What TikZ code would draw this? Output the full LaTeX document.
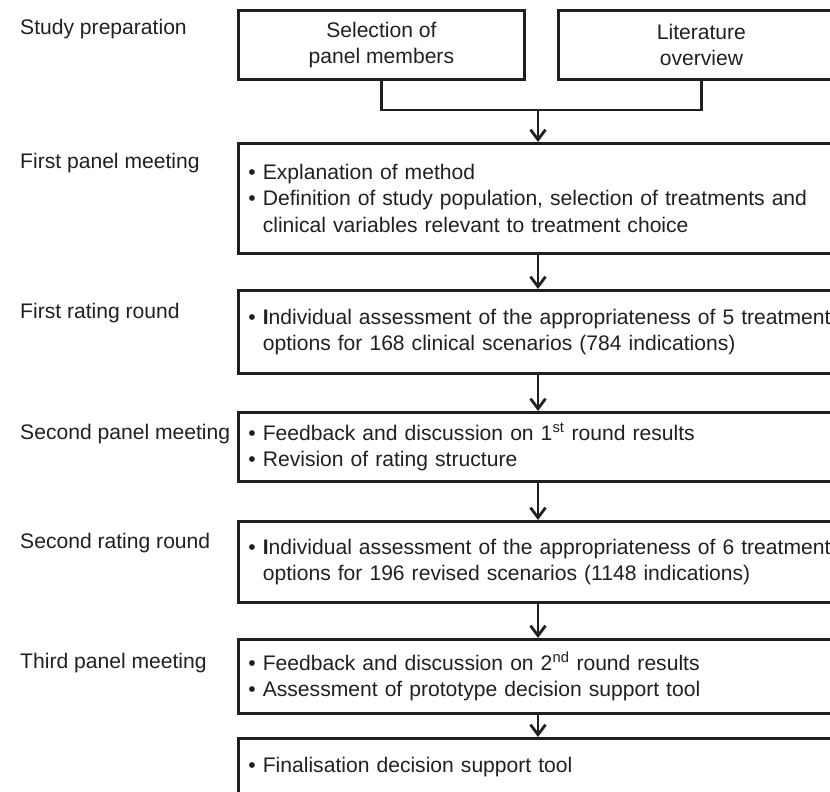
\documentclass[tikz,border=0pt]{standalone}
\usepackage{fontspec}
\setmainfont{Liberation Sans}
\usetikzlibrary{arrows.meta}
\definecolor{inkgray}{RGB}{35,31,32}
\newcommand{\bul}{\textbullet\ }
\newcommand{\nobul}{\phantom{\textbullet}\ }
\begin{document}
\begin{tikzpicture}[x=1pt,y=-1pt,inkgray,
	every node/.style={font=\fontsize{21.1}{26.5}\selectfont,text=inkgray},
	stagebox/.style={draw,line width=2.8pt,anchor=north west,align=left,text width=600pt,inner xsep=10pt,inner ysep=0pt},
	topbox/.style={draw,line width=2.8pt,anchor=north west,align=center,minimum width=286pt,minimum height=69pt,inner sep=0pt},
	stagelabel/.style={anchor=west,inner sep=0pt},
	flow/.style={line width=2.8pt,-{Straight Barb[length=10pt,width=15pt,line width=2.8pt]}}]
	\clip (0,0) rectangle (830,792); % Cuts the boxes like the source figure
		% Labels on the left
		\node[stagelabel] (LabPrep)     at (20,29)  {Study preparation};
		\node[stagelabel] (LabMeetOne)  at (20,163) {First panel meeting};
		\node[stagelabel] (LabRateOne)  at (20,313) {First rating round};
		\node[stagelabel] (LabMeetTwo)  at (20,434) {Second panel meeting};
		\node[stagelabel] (LabRateTwo)  at (20,543) {Second rating round};
		\node[stagelabel] (LabMeetThr)  at (20,663) {Third panel meeting};

		% Study preparation
		\node[topbox] (PanelSel)    at (237,9) {Selection of\\panel members};
		\node[topbox] (LitOverview) at (557,9) {Literature\\overview};
		\coordinate (Junction) at (538,110);

		% Stages
		\node[stagebox,minimum height=110pt] (MeetOne) at (237,142) {\bul Explanation of method\\\bul Definition of study population, selection of treatments and\\\nobul clinical variables relevant to treatment choice};
		\node[stagebox,minimum height=83pt] (RateOne) at (237,289) {\bul \textbf{I}ndividual assessment of the appropriateness of 5 treatment\\\nobul options for 168 clinical scenarios (784 indications)};
		\node[stagebox,minimum height=69pt] (MeetTwo) at (237,411) {\bul Feedback and discussion on 1\textsuperscript{st} round results\\\bul Revision of rating structure};
		\node[stagebox,minimum height=81pt] (RateTwo) at (237,520) {\bul \textbf{I}ndividual assessment of the appropriateness of 6 treatment\\\nobul options for 196 revised scenarios (1148 indications)};
		\node[stagebox,minimum height=74pt] (MeetThr) at (237,638) {\bul Feedback and discussion on 2\textsuperscript{nd} round results\\\bul Assessment of prototype decision support tool};
		\node[stagebox,minimum height=58pt] (Final)   at (237,737) {\bul Finalisation decision support tool};

		\draw[line width=2.8pt] (PanelSel.south) |- (Junction) -| (LitOverview.south);
		\draw[flow] (Junction) -- (MeetOne.north -| Junction);
		\draw[flow] (MeetOne.south -| Junction) -- (RateOne.north -| Junction);
		\draw[flow] (RateOne.south -| Junction) -- (MeetTwo.north -| Junction);
		\draw[flow] (MeetTwo.south -| Junction) -- (RateTwo.north -| Junction);
		\draw[flow] (RateTwo.south -| Junction) -- (MeetThr.north -| Junction);
		\draw[flow] (MeetThr.south -| Junction) -- (Final.north -| Junction);
\end{tikzpicture}
\end{document}
